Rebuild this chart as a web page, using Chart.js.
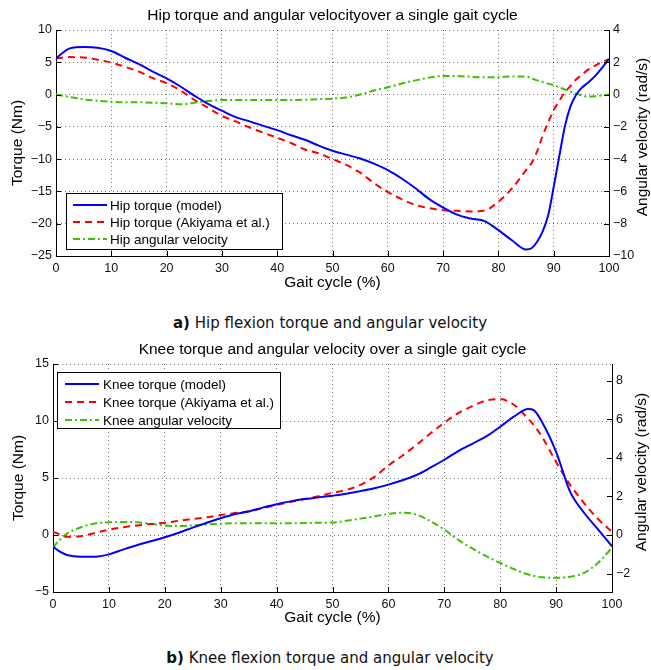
<!DOCTYPE html>
<html>
<head>
<meta charset="utf-8">
<script src="https://cdn.jsdelivr.net/npm/chart.js@4.4.0/dist/chart.umd.min.js"></script>
<style>
  body { margin: 0; background: #fff; width: 651px; height: 670px; position: relative; overflow: hidden; }
  .box { position: absolute; left: 0; width: 651px; height: 300px; }
  .cap { position: absolute; left: 0; width: 660px; text-align: center; font: 15px "DejaVu Sans", sans-serif; color: #111; }
</style>
</head>
<body>
<div class="box" style="top:0"><canvas id="hip" width="651" height="300"></canvas></div>
<div class="cap" style="top:314px"><b>a)</b> Hip flexion torque and angular velocity</div>
<div class="box" style="top:335px"><canvas id="knee" width="651" height="300"></canvas></div>
<div class="cap" style="top:649px"><b>b)</b> Knee flexion torque and angular velocity</div>
<script>
// gait cycle (%) sample points and values
const hipX = [0, 2.5, 5, 7.5, 10, 12.5, 15, 17.5, 20, 22.5, 25, 27.5, 30, 32.5, 35, 37.5, 40, 42.5, 45, 47.5,
  50, 52.5, 55, 57.5, 60, 62.5, 65, 67.5, 70, 72.5, 75, 77.5, 80, 82.5, 85,
  86, 87, 88, 89, 90, 91, 92, 93, 94, 95, 96, 97.5, 100];
const hipModel = [5.6, 7.15, 7.35, 7.25, 6.75, 5.7, 4.7, 3.55, 2.5, 1.25,
  -0.15, -1.45, -2.5, -3.5, -4.15, -4.85, -5.5, -6.3, -7.0, -7.9,
  -8.7, -9.3, -9.9, -10.7, -11.7, -13.0, -14.5, -16.2, -17.5, -18.6,
  -19.2, -19.6, -21.0, -22.6, -24.0,
  -23.8, -22.8, -21.2, -18.7, -14.3, -9.6, -5.0, -1.9, -0.1, 1.0, 1.7,
  2.9, 5.5];
const hipAkiyama = [5.6, 5.8, 5.75, 5.4, 4.95, 4.3, 3.55, 2.55, 1.75, 0.65,
  -0.8, -2.05, -3.3, -4.15, -5.1, -5.9, -6.7, -7.5, -8.5, -9.1,
  -10.0, -10.9, -12.1, -13.7, -15.1, -16.2, -17.1, -17.6, -17.9, -18.0,
  -18.1, -17.95, -16.6, -14.5, -11.7,
  -10.6, -8.8, -6.4, -4.3, -2.4, -1.0, 0.35, 1.3, 2.3, 3.0, 3.7,
  4.5, 5.5];
const hipVelocity = [0.0, -0.15, -0.3, -0.38, -0.45, -0.48, -0.48, -0.5, -0.54, -0.6,
  -0.5, -0.4, -0.34, -0.34, -0.34, -0.34, -0.34, -0.34, -0.32, -0.28,
  -0.25, -0.18, 0.0, 0.25, 0.45, 0.68, 0.88, 1.05, 1.15, 1.15,
  1.1, 1.07, 1.08, 1.12, 1.12,
  1.0, 0.88, 0.78, 0.68, 0.58, 0.45, 0.32, 0.18, 0.06, -0.05, -0.12,
  -0.1, 0.0];

const kneeX = [0, 1, 2.5, 5, 7.5, 10, 12.5, 15, 17.5, 20, 22.5, 25, 27.5, 30, 32.5, 35, 37.5, 40, 42.5, 45,
  47.5, 50, 52.5, 55, 57.5, 60, 62.5, 65, 67.5, 70, 72.5, 75, 77.5, 80, 82.5, 85,
  86, 87.5, 90, 92.5, 95, 97.5, 100];
const kneeModel = [-1.0, -1.4, -1.75, -1.9, -1.9, -1.7, -1.28, -0.9, -0.55, -0.2,
  0.2, 0.65, 1.08, 1.47, 1.82, 2.07, 2.4, 2.7, 2.95, 3.15,
  3.3, 3.45, 3.62, 3.85, 4.1, 4.42, 4.8, 5.26, 5.9, 6.6,
  7.35, 8.0, 8.65, 9.5, 10.4, 11.05,
  10.95, 9.9, 7.3, 3.8, 1.95, 0.5, -1.0];
const kneeAkiyama = [0.27, 0.1, -0.15, -0.1, 0.18, 0.47, 0.68, 0.83, 0.97, 1.07,
  1.25, 1.4, 1.55, 1.75, 1.92, 2.08, 2.35, 2.63, 2.9, 3.15,
  3.4, 3.7, 3.95, 4.4, 5.1, 6.1, 6.95, 7.9, 8.9, 9.85,
  10.7, 11.3, 11.8, 11.92, 11.4, 10.2,
  9.65, 8.6, 6.4, 4.4, 2.8, 1.4, 0.27];
const kneeVelocity = [-0.66, -0.31, 0.07, 0.4, 0.6, 0.66, 0.68, 0.66, 0.58, 0.49,
  0.47, 0.5, 0.55, 0.58, 0.61, 0.61, 0.61, 0.61, 0.61, 0.62,
  0.64, 0.65, 0.74, 0.85, 0.97, 1.09, 1.16, 1.06, 0.72, 0.28,
  -0.25, -0.7, -1.1, -1.45, -1.78, -2.05,
  -2.13, -2.2, -2.22, -2.17, -1.97, -1.45, -0.66];

const gaitTicks = [0, 10, 20, 30, 40, 50, 60, 70, 80, 90, 100];
const hipTorqueTicks = [-25, -20, -15, -10, -5, 0, 5, 10];
const hipVelTicks = [-10, -8, -6, -4, -2, 0, 2, 4];
const kneeTorqueTicks = [-5, 0, 5, 10, 15];
const kneeVelTicks = [-2, 0, 2, 4, 6, 8];

const FONT = '"Liberation Sans", Arial, sans-serif';
const BLUE = '#0000ff', RED = '#ff0000', GREEN = '#3fc000';

function minus(v) { return String(v).replace('-', '\u2212'); }
function pts(xs, ys) { return xs.map((x, i) => ({ x: x, y: ys[i] })); }

// legend box drawn inside the plot, MATLAB style
const boxLegend = {
  id: 'boxLegend',
  afterDatasetsDraw(chart, args, o) {
    const ctx = chart.ctx;
    ctx.save();
    ctx.fillStyle = '#fff';
    ctx.fillRect(o.x, o.y, o.w, o.h);
    ctx.strokeStyle = '#000';
    ctx.lineWidth = 1;
    ctx.strokeRect(o.x + 0.5, o.y + 0.5, o.w, o.h);
    chart.data.datasets.forEach((ds, i) => {
      const y = o.y + o.rows[i];
      ctx.strokeStyle = ds.borderColor;
      ctx.lineWidth = ds.borderWidth;
      ctx.setLineDash(ds.borderDash || []);
      ctx.beginPath();
      ctx.moveTo(o.x + o.line0, y);
      ctx.lineTo(o.x + o.line1, y);
      ctx.stroke();
      ctx.setLineDash([]);
      ctx.fillStyle = '#000';
      ctx.font = '13.5px ' + FONT;
      ctx.textBaseline = 'middle';
      ctx.fillText(ds.label, o.x + o.textX, y + 1);
    });
    ctx.restore();
  }
};

// small inward tick marks + right axis title (reads bottom to top)
const axisExtras = {
  id: 'axisExtras',
  afterDraw(chart, args, o) {
    const ctx = chart.ctx, a = chart.chartArea, s = chart.scales;
    ctx.save();
    ctx.strokeStyle = '#000';
    ctx.lineWidth = 1;
    ctx.beginPath();
    s.x.ticks.forEach(t => {
      const p = Math.round(s.x.getPixelForValue(t.value)) + 0.5;
      ctx.moveTo(p, a.bottom); ctx.lineTo(p, a.bottom - 5);
    });
    s.y.ticks.forEach(t => {
      const p = Math.round(s.y.getPixelForValue(t.value)) + 0.5;
      ctx.moveTo(a.left, p); ctx.lineTo(a.left + 5, p);
    });
    s.y1.ticks.forEach(t => {
      const p = Math.round(s.y1.getPixelForValue(t.value)) + 0.5;
      ctx.moveTo(a.right, p); ctx.lineTo(a.right - 5, p);
    });
    ctx.stroke();
    ctx.translate(o.titleX, (a.top + a.bottom) / 2 + o.titleShift);
    ctx.rotate(-Math.PI / 2);
    ctx.fillStyle = '#000';
    ctx.font = '15.5px ' + FONT;
    ctx.textAlign = 'center';
    ctx.textBaseline = 'middle';
    ctx.fillText('Angular velocity (rad/s)', 0, 0);
    ctx.restore();
  }
};

function makeChart(id, c) {
  const grid = { color: 'rgba(0,0,0,0.55)', lineWidth: 1, drawTicks: false };
  const tickFont = { family: FONT, size: 12.5 };
  return new Chart(document.getElementById(id), {
    type: 'line',
    data: {
      datasets: [
        { label: c.labels[0], data: pts(c.x, c.model), yAxisID: 'y',
          borderColor: BLUE, borderWidth: 2 },
        { label: c.labels[1], data: pts(c.x, c.akiyama), yAxisID: 'y',
          borderColor: RED, borderWidth: 2, borderDash: [7, 5] },
        { label: c.labels[2], data: pts(c.x, c.velocity), yAxisID: 'y1',
          borderColor: GREEN, borderWidth: 2, borderDash: [7, 3, 2, 3] }
      ]
    },
    options: {
      responsive: false,
      animation: false,
      events: [],
      layout: { padding: 0 },
      elements: {
        point: { radius: 0 },
        line: { cubicInterpolationMode: 'monotone', fill: false }
      },
      plugins: {
        legend: { display: false },
        tooltip: { enabled: false },
        title: {
          display: true, text: c.title, fullSize: false, color: '#000',
          font: { family: FONT, size: 15.5, weight: 'normal', lineHeight: 1.2 },
          padding: c.titlePad
        },
        boxLegend: c.legend,
        axisExtras: { titleX: c.rightTitleX, titleShift: -6 }
      },
      scales: {
        x: {
          type: 'linear', position: 'bottom', min: 0, max: 100,
          afterBuildTicks: s => { s.ticks = gaitTicks.map(v => ({ value: v })); },
          afterFit: s => { s.height = c.xHeight; },
          grid: grid,
          border: { display: true, color: '#000', width: 1, dash: [1, 3] },
          ticks: { autoSkip: false, maxRotation: 0, padding: 5, color: '#111', font: tickFont },
          title: { display: true, text: 'Gait cycle (%)', color: '#000',
            font: { family: FONT, size: 15.5 }, padding: { top: 0, bottom: c.xTitlePad } }
        },
        y: {
          position: 'left', min: c.yRange[0], max: c.yRange[1],
          afterBuildTicks: s => { s.ticks = c.yTicks.map(v => ({ value: v })); },
          afterFit: s => { s.width = c.leftWidth; },
          grid: grid,
          border: { display: true, color: '#000', width: 1, dash: [1, 3] },
          ticks: { padding: 4, color: '#111', font: tickFont, callback: v => minus(v) },
          title: { display: true, text: 'Torque (Nm)', color: '#000',
            font: { family: FONT, size: 15.5 }, padding: { top: c.yTitlePad, bottom: 0 } }
        },
        y1: {
          position: 'right', min: c.y1Range[0], max: c.y1Range[1],
          afterBuildTicks: s => { s.ticks = c.y1Ticks.map(v => ({ value: v })); },
          afterFit: s => { s.width = c.rightWidth; },
          grid: { display: false, drawTicks: false },
          border: { display: true, color: '#000', width: 1 },
          ticks: { padding: 4, color: '#111', font: tickFont, callback: v => minus(v) }
        }
      }
    },
    plugins: [boxLegend, axisExtras]
  });
}

makeChart('hip', {
  title: 'Hip torque and angular velocityover a single gait cycle',
  labels: ['Hip torque (model)', 'Hip torque (Akiyama et al.)', 'Hip angular velocity'],
  x: hipX, model: hipModel, akiyama: hipAkiyama, velocity: hipVelocity,
  yRange: [-25, 10], yTicks: hipTorqueTicks,
  y1Range: [-10, 4], y1Ticks: hipVelTicks,
  titlePad: { top: 6.7, bottom: 4.7 },
  leftWidth: 56, rightWidth: 42, xHeight: 44,
  xTitlePad: 7.7, yTitlePad: 8.2, rightTitleX: 643,
  legend: { x: 66, y: 193, w: 216, h: 56, rows: [12, 29, 46], line0: 7, line1: 41, textX: 44 }
});

makeChart('knee', {
  title: 'Knee torque and angular velocity over a single gait cycle',
  labels: ['Knee torque (model)', 'Knee torque (Akiyama et al.)', 'Knee angular velocity'],
  x: kneeX, model: kneeModel, akiyama: kneeAkiyama, velocity: kneeVelocity,
  yRange: [-5, 15], yTicks: kneeTorqueTicks,
  y1Range: [-2.96, 8.88], y1Ticks: kneeVelTicks,
  titlePad: { top: 5, bottom: 5.4 },
  leftWidth: 53, rightWidth: 39, xHeight: 43,
  xTitlePad: 8.4, yTitlePad: 9.7, rightTitleX: 642,
  legend: { x: 57, y: 37, w: 223, h: 56, rows: [12, 30, 48], line0: 8, line1: 42, textX: 46 }
});
</script>
</body>
</html>
